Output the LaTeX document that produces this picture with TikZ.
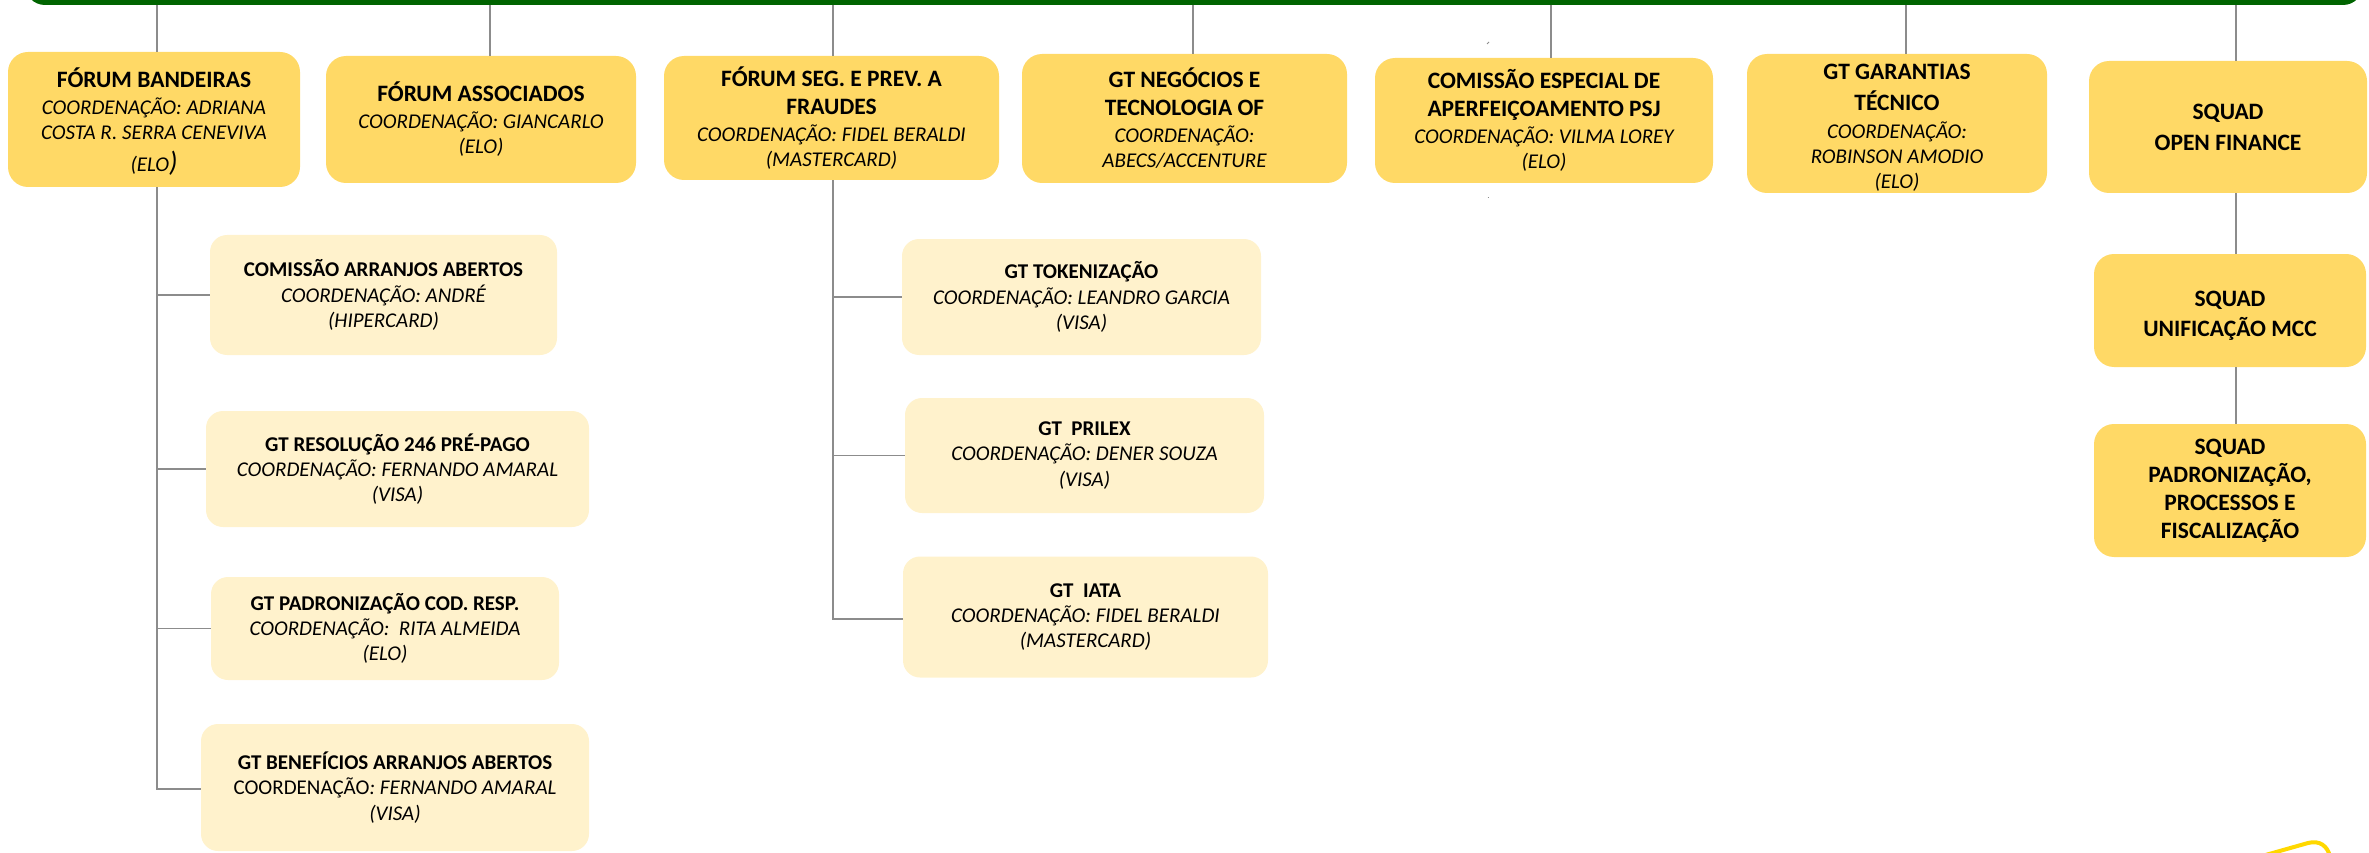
\documentclass[tikz,border=0pt]{standalone}
\usepackage{fontspec}
\setmainfont{Carlito}
\definecolor{barra}{HTML}{006400}
\definecolor{ouro}{HTML}{FFD966}
\definecolor{creme}{HTML}{FFF2CC}
\definecolor{linha}{HTML}{8C8C8C}
\definecolor{amarelo}{HTML}{FFD800}
\newcommand{\titulo}[1]{{\fontsize{23.5}{28}\selectfont\bfseries\upshape #1}}
\newcommand{\subtit}[1]{{\bfseries\upshape #1}}
\begin{document}
\begin{tikzpicture}[x=1pt,y=-1pt,
    topbox/.style={fill=ouro, rounded corners=20pt, inner sep=0pt, align=center,
        font=\fontsize{21}{25}\selectfont\itshape},
    subbox/.style={fill=creme, rounded corners=17pt, inner sep=0pt, align=center,
        font=\fontsize{21}{25.3}\selectfont\itshape},
    link/.style={draw=linha, line width=1.6pt}]
    \useasboundingbox (0,0) rectangle (2369,853);
    \clip (0,0) rectangle (2369,853);
    % faixa verde do topo
    \fill[barra, rounded corners=20pt] (25,-60) rectangle (2363,5);
    % primeiro nivel
    \node[topbox, minimum width=292pt, minimum height=135pt] (bandeiras) at (154,119.5)
        {{}\\[-1pt] \titulo{FÓRUM BANDEIRAS}\\[2pt] COORDENAÇÃO: ADRIANA\\ COSTA R. SERRA CENEVIVA\\[7pt] (ELO{\fontsize{28}{28}\selectfont)}};
    \node[topbox, minimum width=310pt, minimum height=127pt] (associados) at (481,119.5)
        {\titulo{FÓRUM ASSOCIADOS}\\[2pt] COORDENAÇÃO: GIANCARLO\\ (ELO)};
    \node[topbox, minimum width=335pt, minimum height=124pt] (seguranca) at (831.5,118)
        {\titulo{FÓRUM SEG. E PREV. A}\\[3pt] \titulo{FRAUDES}\\[2pt] COORDENAÇÃO: FIDEL BERALDI\\ (MASTERCARD)};
    \node[topbox, minimum width=325pt, minimum height=129pt] (negocios) at (1184.5,118.5)
        {\titulo{GT NEGÓCIOS E}\\[3pt] \titulo{TECNOLOGIA OF}\\[2pt] COORDENAÇÃO:\\ ABECS/ACCENTURE};
    \node[topbox, minimum width=338pt, minimum height=125pt] (comissao) at (1544,120.5)
        {\titulo{COMISSÃO ESPECIAL DE}\\[3pt] \titulo{APERFEIÇOAMENTO PSJ}\\[2pt] COORDENAÇÃO: VILMA LOREY\\ (ELO)};
    \node[topbox, minimum width=300pt, minimum height=139pt] (garantias) at (1897,123.5)
        {{}\\[-2pt] \titulo{GT GARANTIAS}\\[6pt] \titulo{TÉCNICO}\\[3pt] COORDENAÇÃO:\\ ROBINSON AMODIO\\ (ELO)};
    \node[topbox, minimum width=278pt, minimum height=132pt] (openfin) at (2228,127)
        {\titulo{SQUAD}\\[6pt] \titulo{OPEN FINANCE}};
    % ligacoes da faixa
    \foreach \x/\alvo in {157/bandeiras, 490/associados, 833/seguranca, 1193/negocios,
        1551/comissao, 1906/garantias, 2236/openfin}{
        \coordinate (b\alvo) at (\x,5);
        \draw[link] (b\alvo) -- (b\alvo |- \alvo.north);
    }
    % marcas pequenas
    \draw[linha, line width=1pt] (1487,44) -- (1489,42);
    \draw[linha, line width=1pt] (1487.5,198) -- (1489,198);
    % forum bandeiras
    \node[subbox, minimum width=347pt, minimum height=120pt] (arranjos) at (383.5,295)
        {\subtit{COMISSÃO ARRANJOS ABERTOS}\\ COORDENAÇÃO: ANDRÉ\\ (HIPERCARD)};
    \node[subbox, minimum width=383pt, minimum height=116pt] (resolucao) at (397.5,469)
        {\subtit{GT RESOLUÇÃO 246 PRÉ-PAGO}\\ COORDENAÇÃO: FERNANDO AMARAL\\ (VISA)};
    \node[subbox, minimum width=348pt, minimum height=103pt] (codresp) at (385,628.5)
        {\subtit{GT PADRONIZAÇÃO COD. RESP.}\\ COORDENAÇÃO:\ \ RITA ALMEIDA\\ (ELO)};
    \node[subbox, minimum width=388pt, minimum height=127pt] (beneficios) at (395,787.5)
        {\subtit{GT BENEFÍCIOS ARRANJOS ABERTOS}\\ {\upshape COORDENAÇÃO}: FERNANDO AMARAL\\ (VISA)};
    \coordinate (fimA) at (157,789);
    \draw[link] (bandeiras.south -| fimA) -- (fimA) -- (beneficios.west |- fimA);
    \foreach \alvo in {arranjos, resolucao, codresp}
        \draw[link] (fimA |- \alvo.west) -- (\alvo.west);
    % forum seguranca
    \node[subbox, minimum width=359pt, minimum height=116pt] (token) at (1081.5,297)
        {\subtit{GT TOKENIZAÇÃO}\\ COORDENAÇÃO: LEANDRO GARCIA\\ (VISA)};
    \node[subbox, minimum width=359pt, minimum height=115pt] (prilex) at (1084.5,455.5)
        {\subtit{GT\ \ PRILEX}\\ COORDENAÇÃO: DENER SOUZA\\ (VISA)};
    \node[subbox, minimum width=365pt, minimum height=121pt] (iata) at (1085.5,617)
        {\subtit{GT\ \ IATA}\\ COORDENAÇÃO: FIDEL BERALDI\\ (MASTERCARD)};
    \coordinate (fimB) at (833,619);
    \draw[link] (seguranca.south -| fimB) -- (fimB) -- (iata.west |- fimB);
    \foreach \alvo in {token, prilex}
        \draw[link] (fimB |- \alvo.west) -- (\alvo.west);
    % squads
    \node[topbox, minimum width=272pt, minimum height=113pt] (mcc) at (2230,310.5)
        {{}\\[1.5pt] \titulo{SQUAD}\\[5pt] \titulo{UNIFICAÇÃO MCC}};
    \node[topbox, minimum width=272pt, minimum height=133pt] (processos) at (2230,490.5)
        {\titulo{SQUAD}\\[3pt] \titulo{PADRONIZAÇÃO,}\\[3pt] \titulo{PROCESSOS E}\\[3pt] \titulo{FISCALIZAÇÃO}};
    \draw[link] (openfin.south -| 2236,0) -- (mcc.north -| 2236,0);
    \draw[link] (mcc.south -| 2236,0) -- (processos.north -| 2236,0);
    % canto amarelo
    \draw[amarelo, line width=4pt, line cap=round]
        (2262,856) -- (2308,843) .. controls (2320,840) and (2327,846) .. (2330,856);
\end{tikzpicture}
\end{document}
